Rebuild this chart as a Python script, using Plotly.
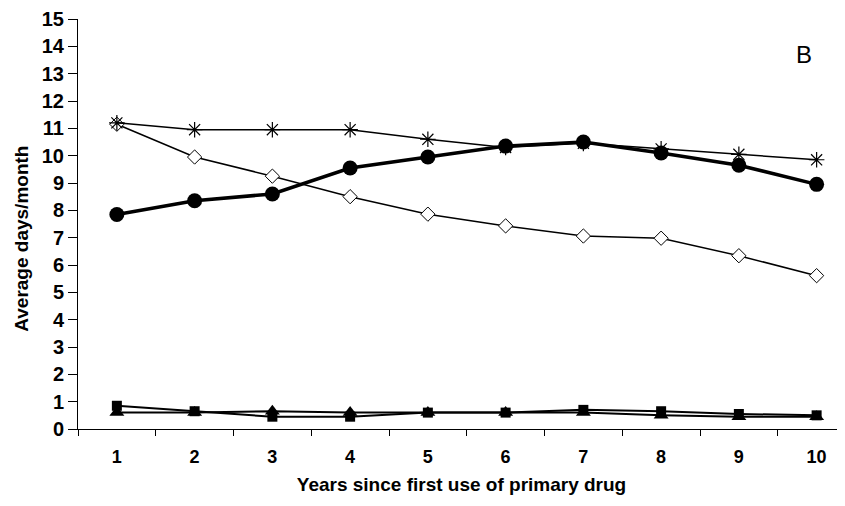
import plotly.graph_objects as go

years = ["1", "2", "3", "4", "5", "6", "7", "8", "9", "10"]
star_vals = [11.2, 10.95, 10.95, 10.95, 10.6, 10.3, 10.45, 10.25, 10.05, 9.85]
diamond_vals = [11.15, 9.95, 9.25, 8.5, 7.86, 7.43, 7.06, 6.98, 6.34, 5.61]
circle_vals = [7.85, 8.35, 8.6, 9.55, 9.95, 10.35, 10.5, 10.1, 9.65, 8.95]
square_vals = [0.85, 0.65, 0.45, 0.45, 0.6, 0.6, 0.7, 0.65, 0.55, 0.5]
triangle_vals = [0.6, 0.6, 0.65, 0.6, 0.6, 0.6, 0.6, 0.5, 0.45, 0.45]
y_ticks = list(range(0, 16))

fig = go.Figure()
fig.add_trace(go.Scatter(x=years, y=triangle_vals, mode="lines+markers",
                         line=dict(color="black", width=2),
                         marker=dict(symbol="triangle-up", size=13, color="black")))
fig.add_trace(go.Scatter(x=years, y=square_vals, mode="lines+markers",
                         line=dict(color="black", width=2),
                         marker=dict(symbol="square", size=10, color="black")))
fig.add_trace(go.Scatter(x=years, y=diamond_vals, mode="lines+markers",
                         line=dict(color="black", width=1.5),
                         marker=dict(symbol="diamond", size=11, color="white",
                                     line=dict(color="black", width=1))))
fig.add_trace(go.Scatter(x=years, y=circle_vals, mode="lines+markers",
                         line=dict(color="black", width=3.5),
                         marker=dict(symbol="circle", size=15, color="black")))
fig.add_trace(go.Scatter(x=years, y=star_vals, mode="lines+markers",
                         line=dict(color="black", width=1.5),
                         marker=dict(symbol="asterisk-open", size=13, color="black",
                                     line=dict(color="black", width=1.2))))

fig.add_annotation(text="B", x=0.9466, y=0.9146, xref="paper", yref="paper",
                   xanchor="center", yanchor="middle", showarrow=False,
                   font=dict(family="Liberation Sans, Arial", size=24, color="black"))

# y-axis title placed as rotated text to match reference position
fig.add_annotation(text="Average days/month", x=-0.0730, y=0.464, xref="paper", yref="paper",
                   xanchor="center", yanchor="middle", textangle=-90, showarrow=False,
                   font=dict(family="Liberation Sans, Arial", size=19, color="black", weight="bold"))

fig.update_layout(
    width=837, height=498,
    margin=dict(l=70, r=0, t=11, b=77, autoexpand=False),
    paper_bgcolor="white", plot_bgcolor="white",
    showlegend=False,
    font=dict(family="Liberation Sans, Arial", color="black"),
    xaxis=dict(type="category", range=[-0.5, 9.365], tickson="boundaries",
               ticks="outside", ticklen=6, tickcolor="black",
               showline=True, linecolor="black", linewidth=1, showgrid=False,
               ticklabelstandoff=11,
               tickfont=dict(size=18, weight="bold"),
               title=dict(text="Years since first use of primary drug",
                          font=dict(size=19, weight="bold"), standoff=12)),
    yaxis=dict(range=[0, 15], tickvals=y_ticks,
               ticks="outside", ticklen=9, tickcolor="black",
               showline=True, linecolor="black", linewidth=1, showgrid=False,
               zeroline=False, ticklabelstandoff=0,
               tickfont=dict(size=20, weight="bold")),
)

fig.write_html("out.html")
